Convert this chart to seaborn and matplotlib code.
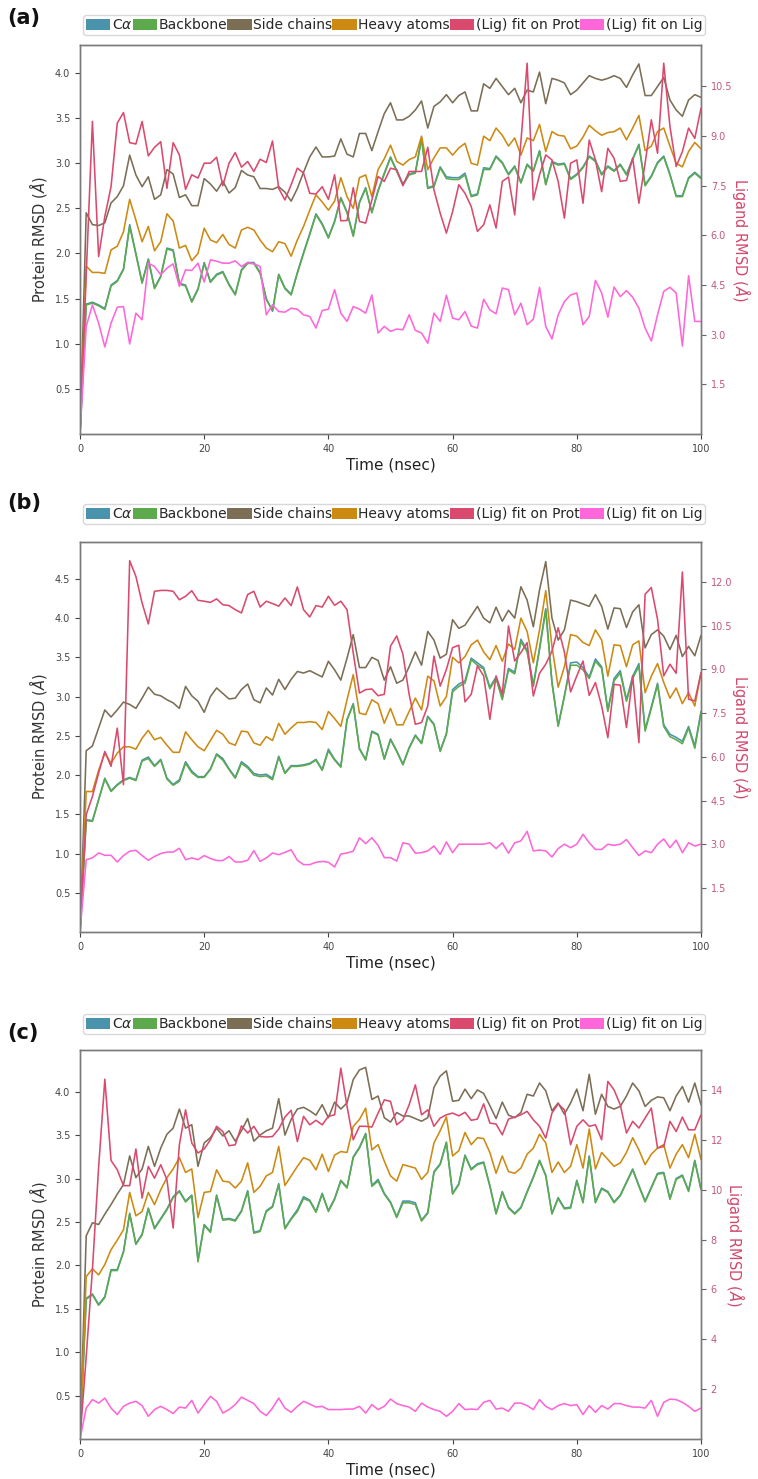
import matplotlib
matplotlib.use('Agg')
import matplotlib.pyplot as plt
from matplotlib.patches import Patch
import seaborn as sns

# Simulation time (ns)
time_ns = list(range(0, 101))

series_names = ['C$\\alpha$', 'Backbone', 'Side chains', 'Heavy atoms',
                '(Lig) fit on Prot', '(Lig) fit on Lig']
series_colors = ['#4a93ad', '#5daa4e', '#7b6e55', '#cc8a12', '#d94a6e', '#ff66d9']

# ---------------- panel (a) ----------------
a_ca = [0, 1.44, 1.46, 1.43, 1.39, 1.65, 1.70, 1.83, 2.32, 2.00,
        1.68, 1.94, 1.62, 1.75, 2.06, 2.04, 1.67, 1.65, 1.47, 1.61,
        1.90, 1.69, 1.77, 1.80, 1.66, 1.55, 1.82, 1.90, 1.90, 1.79,
        1.50, 1.36, 1.77, 1.62, 1.55, 1.79, 2.01, 2.22, 2.44, 2.33,
        2.18, 2.36, 2.62, 2.46, 2.20, 2.57, 2.73, 2.46, 2.70, 2.89,
        3.07, 2.92, 2.77, 2.88, 2.90, 3.28, 2.73, 2.75, 2.96, 2.85,
        2.84, 2.84, 2.89, 2.64, 2.66, 2.95, 2.94, 3.08, 3.01, 2.88,
        2.97, 2.79, 2.99, 2.92, 3.14, 2.77, 3.02, 2.99, 3.00, 2.83,
        2.88, 2.96, 3.08, 3.03, 2.88, 2.97, 2.92, 2.99, 2.88, 3.05,
        3.21, 2.76, 2.86, 3.01, 3.08, 2.88, 2.64, 2.64, 2.84, 2.90, 2.84]
a_backbone = [0, 1.43, 1.45, 1.42, 1.38, 1.64, 1.69, 1.82, 2.30, 1.99,
              1.67, 1.93, 1.61, 1.74, 2.05, 2.03, 1.66, 1.64, 1.46, 1.60,
              1.89, 1.68, 1.76, 1.79, 1.65, 1.54, 1.81, 1.89, 1.89, 1.78,
              1.49, 1.37, 1.76, 1.61, 1.54, 1.78, 2.00, 2.21, 2.43, 2.32,
              2.17, 2.35, 2.61, 2.45, 2.19, 2.56, 2.72, 2.45, 2.69, 2.88,
              3.06, 2.91, 2.76, 2.87, 2.89, 3.27, 2.72, 2.74, 2.95, 2.83,
              2.82, 2.82, 2.87, 2.63, 2.65, 2.93, 2.93, 3.07, 3.00, 2.87,
              2.96, 2.78, 2.98, 2.91, 3.13, 2.76, 3.01, 2.98, 2.99, 2.82,
              2.87, 2.95, 3.07, 3.02, 2.87, 2.96, 2.91, 2.98, 2.87, 3.04,
              3.20, 2.75, 2.85, 3.00, 3.07, 2.87, 2.63, 2.63, 2.83, 2.89, 2.83]
a_side = [0, 2.45, 2.32, 2.31, 2.34, 2.56, 2.63, 2.75, 3.09, 2.87,
          2.74, 2.85, 2.60, 2.65, 2.93, 2.88, 2.62, 2.65, 2.53, 2.53,
          2.83, 2.77, 2.69, 2.80, 2.67, 2.73, 2.92, 2.87, 2.85, 2.72,
          2.72, 2.71, 2.74, 2.68, 2.58, 2.72, 2.90, 3.07, 3.18, 3.07,
          3.07, 3.08, 3.27, 3.10, 3.07, 3.33, 3.33, 3.14, 3.35, 3.55,
          3.67, 3.48, 3.48, 3.52, 3.59, 3.69, 3.39, 3.63, 3.68, 3.76,
          3.67, 3.75, 3.79, 3.58, 3.58, 3.88, 3.83, 3.94, 3.85, 3.76,
          3.83, 3.67, 3.81, 3.79, 4.01, 3.66, 3.94, 3.92, 3.89, 3.76,
          3.81, 3.89, 3.97, 3.94, 3.92, 3.94, 3.97, 3.94, 3.84, 3.98,
          4.10, 3.75, 3.75, 3.85, 3.95, 3.70, 3.59, 3.52, 3.70, 3.76, 3.73]
a_heavy = [0, 1.86, 1.79, 1.79, 1.78, 2.04, 2.08, 2.24, 2.60, 2.37,
           2.13, 2.30, 2.03, 2.13, 2.44, 2.36, 2.06, 2.09, 1.92, 2.00,
           2.28, 2.15, 2.12, 2.21, 2.10, 2.06, 2.26, 2.29, 2.26, 2.15,
           2.06, 2.02, 2.13, 2.11, 1.97, 2.15, 2.30, 2.48, 2.65, 2.57,
           2.48, 2.58, 2.84, 2.63, 2.50, 2.84, 2.87, 2.63, 2.93, 3.05,
           3.20, 3.02, 2.98, 3.04, 3.07, 3.30, 2.93, 3.06, 3.17, 3.17,
           3.09, 3.17, 3.22, 3.00, 2.98, 3.30, 3.25, 3.39, 3.31, 3.19,
           3.28, 3.09, 3.28, 3.25, 3.43, 3.13, 3.35, 3.31, 3.30, 3.16,
           3.19, 3.29, 3.42, 3.36, 3.31, 3.34, 3.35, 3.39, 3.26, 3.39,
           3.53, 3.14, 3.19, 3.35, 3.39, 3.19, 3.00, 2.96, 3.13, 3.23, 3.16]
a_lig_prot = [0, 4.80, 9.44, 5.36, 6.57, 7.47, 9.39, 9.71, 8.80, 8.76,
              9.44, 8.40, 8.66, 8.83, 7.42, 8.80, 8.43, 7.39, 7.83, 7.73,
              8.18, 8.18, 8.36, 7.50, 8.18, 8.50, 8.06, 8.23, 7.93, 8.30,
              8.20, 8.85, 7.42, 7.07, 7.53, 8.03, 7.88, 7.27, 7.25, 7.47,
              7.09, 7.83, 6.44, 6.45, 7.44, 6.42, 6.37, 7.07, 7.78, 7.63,
              8.03, 7.98, 7.50, 7.93, 7.93, 7.93, 8.66, 7.37, 6.67, 6.07,
              6.72, 7.53, 7.27, 6.87, 6.12, 6.32, 6.92, 6.22, 7.63, 7.76,
              6.62, 8.83, 11.20, 7.07, 7.83, 8.43, 8.28, 7.63, 6.52, 8.18,
              8.28, 6.97, 8.88, 8.28, 7.32, 8.63, 8.33, 7.63, 7.66, 8.33,
              6.97, 8.18, 9.49, 8.48, 11.20, 9.29, 8.08, 8.53, 9.24, 8.93, 9.84]
a_lig_lig = [0, 3.25, 3.90, 3.35, 2.63, 3.35, 3.83, 3.85, 2.72, 3.65,
             3.45, 5.16, 5.06, 4.81, 5.01, 5.14, 4.46, 4.96, 4.94, 5.16,
             4.59, 5.26, 5.22, 5.16, 5.16, 5.23, 5.06, 5.18, 5.14, 5.06,
             3.60, 3.90, 3.70, 3.68, 3.80, 3.77, 3.60, 3.55, 3.20, 3.73,
             3.77, 4.36, 3.65, 3.40, 3.85, 3.77, 3.65, 4.20, 3.05, 3.25,
             3.10, 3.17, 3.15, 3.60, 3.13, 3.05, 2.74, 3.65, 3.40, 4.19,
             3.50, 3.45, 3.70, 3.26, 3.20, 4.07, 3.75, 3.63, 4.41, 4.36,
             3.60, 3.95, 3.30, 3.47, 4.43, 3.25, 2.87, 3.60, 4.00, 4.20,
             4.26, 3.30, 3.55, 4.64, 4.26, 3.53, 4.44, 4.15, 4.33, 4.13,
             3.80, 3.20, 2.81, 3.60, 4.31, 4.43, 4.26, 2.66, 4.78, 3.40, 3.40]

# ---------------- panel (b) ----------------
b_ca = [0, 1.43, 1.42, 1.69, 1.96, 1.80, 1.88, 1.94, 1.97, 1.94,
        2.19, 2.23, 2.12, 2.20, 1.96, 1.88, 1.94, 2.17, 2.05, 1.98,
        1.98, 2.08, 2.27, 2.21, 2.08, 1.97, 2.17, 2.11, 2.02, 2.00,
        2.01, 1.96, 2.24, 2.03, 2.12, 2.12, 2.13, 2.15, 2.20, 2.07,
        2.33, 2.20, 2.11, 2.71, 2.91, 2.34, 2.20, 2.56, 2.52, 2.21,
        2.46, 2.31, 2.14, 2.35, 2.51, 2.41, 2.75, 2.65, 2.31, 2.53,
        3.09, 3.16, 3.20, 3.49, 3.43, 3.37, 3.12, 3.25, 2.98, 3.36,
        3.31, 3.73, 3.59, 3.15, 3.62, 4.12, 3.19, 2.63, 3.01, 3.43,
        3.44, 3.37, 3.25, 3.48, 3.38, 2.83, 3.23, 3.33, 2.96, 3.26,
        3.42, 2.58, 2.87, 3.17, 2.64, 2.52, 2.48, 2.43, 2.62, 2.37, 2.81]
b_backbone = [0, 1.42, 1.41, 1.68, 1.95, 1.79, 1.87, 1.93, 1.96, 1.93,
              2.18, 2.21, 2.11, 2.19, 1.95, 1.87, 1.92, 2.15, 2.03, 1.97,
              1.97, 2.07, 2.26, 2.19, 2.07, 1.96, 2.15, 2.09, 2.00, 1.98,
              1.99, 1.94, 2.23, 2.02, 2.11, 2.11, 2.12, 2.14, 2.19, 2.06,
              2.31, 2.19, 2.10, 2.70, 2.90, 2.33, 2.19, 2.55, 2.51, 2.20,
              2.45, 2.30, 2.13, 2.34, 2.50, 2.40, 2.74, 2.64, 2.30, 2.52,
              3.06, 3.13, 3.17, 3.47, 3.40, 3.35, 3.10, 3.23, 2.96, 3.34,
              3.29, 3.70, 3.57, 3.13, 3.60, 4.10, 3.17, 2.62, 3.00, 3.40,
              3.40, 3.34, 3.23, 3.45, 3.36, 2.81, 3.20, 3.30, 2.94, 3.23,
              3.39, 2.56, 2.85, 3.15, 2.62, 2.49, 2.45, 2.40, 2.60, 2.34, 2.79]
b_side = [0, 2.31, 2.37, 2.60, 2.83, 2.74, 2.83, 2.93, 2.90, 2.85,
          2.98, 3.12, 3.03, 3.01, 2.96, 2.92, 2.85, 3.13, 3.01, 2.94,
          2.80, 3.00, 3.11, 3.04, 2.97, 2.98, 3.09, 3.16, 2.96, 2.92,
          3.11, 3.02, 3.22, 3.09, 3.22, 3.32, 3.30, 3.33, 3.29, 3.25,
          3.45, 3.34, 3.21, 3.49, 3.79, 3.37, 3.37, 3.50, 3.46, 3.21,
          3.38, 3.17, 3.21, 3.38, 3.57, 3.40, 3.83, 3.72, 3.49, 3.54,
          3.98, 3.87, 3.91, 4.03, 4.15, 4.00, 3.94, 4.14, 3.96, 4.10,
          4.00, 4.40, 4.23, 3.89, 4.36, 4.72, 4.00, 3.72, 3.85, 4.23,
          4.21, 4.18, 4.15, 4.30, 4.15, 3.86, 4.13, 4.12, 3.88, 4.08,
          4.17, 3.62, 3.79, 3.85, 3.77, 3.60, 3.78, 3.51, 3.64, 3.52, 3.78]
b_heavy = [0, 1.79, 1.79, 2.06, 2.28, 2.15, 2.28, 2.36, 2.36, 2.33,
           2.47, 2.57, 2.45, 2.48, 2.38, 2.29, 2.29, 2.55, 2.45, 2.36,
           2.31, 2.44, 2.57, 2.52, 2.41, 2.38, 2.56, 2.55, 2.41, 2.38,
           2.49, 2.44, 2.66, 2.52, 2.60, 2.67, 2.67, 2.68, 2.67, 2.58,
           2.81, 2.72, 2.62, 2.96, 3.28, 2.79, 2.77, 2.96, 2.91, 2.66,
           2.85, 2.64, 2.64, 2.81, 2.98, 2.83, 3.26, 3.20, 2.88, 3.00,
           3.50, 3.43, 3.51, 3.66, 3.72, 3.57, 3.47, 3.65, 3.45, 3.67,
           3.60, 4.00, 3.83, 3.43, 3.85, 4.35, 3.64, 3.12, 3.38, 3.79,
           3.77, 3.69, 3.65, 3.85, 3.72, 3.26, 3.66, 3.65, 3.38, 3.66,
           3.71, 3.05, 3.26, 3.42, 3.18, 2.98, 3.11, 2.91, 3.05, 2.88, 3.30]
b_lig_prot = [0, 4.02, 4.65, 5.45, 6.19, 5.68, 6.99, 5.05, 12.73, 12.19,
              11.28, 10.56, 11.68, 11.71, 11.71, 11.68, 11.39, 11.51, 11.70, 11.37,
              11.34, 11.30, 11.42, 11.22, 11.19, 11.05, 10.94, 11.57, 11.68, 11.14,
              11.34, 11.26, 11.17, 11.45, 11.19, 11.83, 11.05, 10.80, 11.19, 11.14,
              11.51, 11.20, 11.34, 11.05, 9.57, 8.19, 8.31, 8.33, 8.10, 8.15,
              9.80, 10.15, 9.52, 8.15, 7.12, 7.18, 7.75, 9.46, 8.43, 9.00,
              9.75, 9.83, 7.89, 8.15, 9.12, 8.78, 7.29, 8.78, 8.15, 10.49,
              9.29, 9.58, 9.92, 8.09, 8.87, 9.18, 9.63, 10.43, 9.60, 8.23,
              8.78, 9.29, 8.11, 8.55, 7.75, 6.66, 8.49, 8.46, 7.01, 8.78,
              6.49, 11.58, 11.81, 10.72, 8.78, 9.18, 8.87, 12.34, 7.98, 7.92, 8.89]
b_lig_lig = [0, 2.48, 2.54, 2.71, 2.63, 2.63, 2.40, 2.62, 2.77, 2.80,
             2.62, 2.46, 2.59, 2.69, 2.74, 2.74, 2.87, 2.48, 2.54, 2.48,
             2.62, 2.52, 2.45, 2.45, 2.59, 2.40, 2.40, 2.46, 2.79, 2.42,
             2.54, 2.71, 2.65, 2.73, 2.82, 2.46, 2.31, 2.31, 2.39, 2.42,
             2.39, 2.23, 2.67, 2.71, 2.77, 3.23, 3.03, 3.23, 2.97, 2.55,
             2.55, 2.43, 3.06, 3.01, 2.70, 2.72, 2.78, 2.95, 2.66, 3.09,
             2.72, 3.01, 3.01, 3.01, 3.01, 3.01, 3.06, 2.86, 3.06, 2.70,
             3.06, 3.12, 3.45, 2.78, 2.81, 2.78, 2.57, 2.86, 3.01, 2.89,
             3.01, 3.35, 3.06, 2.83, 2.83, 3.01, 2.97, 3.01, 3.17, 2.89,
             2.62, 2.78, 2.72, 3.01, 3.19, 2.89, 3.15, 2.72, 3.06, 2.95, 3.01]

# ---------------- panel (c) ----------------
c_ca = [0, 1.62, 1.67, 1.55, 1.64, 1.95, 1.95, 2.16, 2.60, 2.25,
        2.36, 2.66, 2.43, 2.54, 2.65, 2.79, 2.86, 2.74, 2.81, 2.06,
        2.47, 2.39, 2.81, 2.53, 2.54, 2.52, 2.63, 2.86, 2.38, 2.40,
        2.63, 2.68, 2.94, 2.43, 2.54, 2.64, 2.79, 2.75, 2.62, 2.83,
        2.63, 2.77, 2.98, 2.90, 3.25, 3.36, 3.52, 2.92, 2.99, 2.83,
        2.73, 2.56, 2.74, 2.74, 2.72, 2.52, 2.61, 3.08, 3.17, 3.42,
        2.83, 2.94, 3.27, 3.11, 3.17, 3.19, 2.92, 2.60, 2.85, 2.67,
        2.60, 2.67, 2.85, 3.02, 3.21, 3.04, 2.60, 2.78, 2.66, 2.67,
        2.98, 2.73, 3.26, 2.73, 2.89, 2.85, 2.73, 2.81, 2.96, 3.11,
        2.92, 2.74, 2.90, 3.06, 3.07, 2.77, 3.00, 3.04, 2.86, 3.21, 2.88]
c_backbone = [0, 1.61, 1.66, 1.54, 1.63, 1.94, 1.94, 2.15, 2.59, 2.24,
              2.35, 2.65, 2.42, 2.53, 2.64, 2.78, 2.85, 2.73, 2.80, 2.04,
              2.46, 2.38, 2.80, 2.52, 2.53, 2.51, 2.62, 2.85, 2.37, 2.39,
              2.62, 2.67, 2.93, 2.42, 2.53, 2.62, 2.77, 2.74, 2.61, 2.82,
              2.62, 2.76, 2.97, 2.89, 3.24, 3.35, 3.51, 2.91, 2.97, 2.82,
              2.72, 2.55, 2.72, 2.72, 2.70, 2.51, 2.60, 3.07, 3.16, 3.41,
              2.82, 2.93, 3.26, 3.10, 3.16, 3.18, 2.91, 2.59, 2.84, 2.66,
              2.59, 2.66, 2.84, 3.01, 3.20, 3.03, 2.59, 2.77, 2.65, 2.66,
              2.97, 2.72, 3.25, 2.72, 2.88, 2.84, 2.72, 2.80, 2.95, 3.10,
              2.91, 2.73, 2.89, 3.05, 3.06, 2.76, 2.99, 3.03, 2.85, 3.20, 2.87]
c_side = [0, 2.34, 2.49, 2.47, 2.59, 2.70, 2.82, 2.93, 3.26, 3.01,
          3.11, 3.37, 3.14, 3.35, 3.51, 3.58, 3.80, 3.58, 3.62, 3.14,
          3.41, 3.47, 3.58, 3.49, 3.55, 3.43, 3.55, 3.69, 3.43, 3.50,
          3.55, 3.58, 3.92, 3.50, 3.68, 3.80, 3.82, 3.78, 3.73, 3.85,
          3.70, 3.88, 3.80, 3.87, 4.14, 4.25, 4.28, 3.91, 3.95, 3.70,
          3.65, 3.76, 3.72, 3.72, 3.69, 3.66, 3.70, 4.05, 4.18, 4.24,
          3.89, 3.90, 4.03, 3.92, 4.02, 3.98, 3.84, 3.69, 3.88, 3.73,
          3.70, 3.76, 3.97, 3.95, 4.10, 4.01, 3.78, 3.87, 3.74, 3.87,
          4.03, 3.78, 4.20, 3.74, 3.97, 3.83, 3.80, 3.83, 3.95, 4.10,
          4.01, 3.83, 3.90, 3.94, 3.93, 3.78, 3.95, 4.06, 3.88, 4.10, 3.85]
c_heavy = [0, 1.87, 1.96, 1.89, 2.01, 2.18, 2.29, 2.41, 2.84, 2.57,
           2.62, 2.84, 2.70, 2.87, 3.01, 3.11, 3.24, 3.07, 3.11, 2.55,
           2.84, 2.85, 3.10, 2.97, 2.96, 2.89, 2.97, 3.18, 2.84, 2.91,
           3.03, 3.07, 3.37, 2.92, 3.03, 3.14, 3.24, 3.21, 3.10, 3.28,
           3.08, 3.27, 3.31, 3.30, 3.60, 3.68, 3.81, 3.33, 3.39, 3.20,
           3.03, 2.97, 3.16, 3.14, 3.12, 2.99, 3.07, 3.41, 3.55, 3.71,
           3.26, 3.32, 3.53, 3.39, 3.47, 3.46, 3.30, 3.06, 3.26, 3.08,
           3.06, 3.12, 3.28, 3.35, 3.51, 3.41, 3.07, 3.19, 3.07, 3.14,
           3.39, 3.12, 3.57, 3.11, 3.30, 3.22, 3.14, 3.18, 3.30, 3.47,
           3.33, 3.16, 3.28, 3.35, 3.39, 3.12, 3.28, 3.39, 3.24, 3.51, 3.22]
c_lig_prot = [0, 3.30, 6.80, 10.90, 14.43, 11.17, 10.80, 10.16, 10.16, 11.63,
              9.66, 10.93, 10.46, 11.00, 10.40, 8.46, 11.80, 13.20, 11.87, 11.47,
              11.63, 12.00, 12.54, 12.33, 11.76, 11.80, 12.56, 12.27, 12.54, 12.13,
              12.11, 12.13, 12.43, 12.91, 13.18, 11.93, 12.94, 12.60, 12.78, 12.60,
              12.94, 13.00, 14.87, 13.34, 12.00, 12.54, 12.54, 12.51, 13.07, 13.60,
              13.54, 12.60, 12.80, 13.40, 14.20, 13.00, 13.20, 12.54, 12.87, 13.00,
              13.07, 12.96, 13.10, 12.78, 12.83, 13.44, 12.67, 12.63, 12.20, 12.83,
              12.91, 13.00, 13.14, 12.80, 12.54, 12.07, 13.07, 13.44, 13.20, 11.80,
              12.54, 12.80, 12.54, 12.60, 12.00, 14.34, 14.00, 13.40, 12.27, 12.74,
              12.47, 12.87, 13.27, 11.67, 11.73, 12.74, 12.33, 12.91, 12.40, 12.40, 13.00]
c_lig_lig = [0, 1.24, 1.58, 1.44, 1.64, 1.24, 0.98, 1.31, 1.44, 1.51,
             1.34, 0.91, 1.18, 1.31, 1.18, 1.02, 1.28, 1.24, 1.55, 1.04,
             1.38, 1.71, 1.51, 1.04, 1.18, 1.38, 1.68, 1.55, 1.42, 1.11,
             0.94, 1.24, 1.64, 1.24, 1.07, 1.31, 1.51, 1.40, 1.28, 1.31,
             1.18, 1.18, 1.18, 1.20, 1.20, 1.31, 1.04, 1.38, 1.18, 1.31,
             1.60, 1.42, 1.34, 1.28, 1.11, 1.44, 1.28, 1.18, 1.11, 0.91,
             1.11, 1.42, 1.18, 1.20, 1.18, 1.47, 1.55, 1.20, 1.24, 1.11,
             1.44, 1.44, 1.34, 1.18, 1.58, 1.31, 1.18, 1.34, 1.42, 1.34,
             1.38, 0.98, 1.34, 1.07, 1.34, 1.20, 1.42, 1.42, 1.34, 1.28,
             1.28, 1.24, 1.55, 0.91, 1.47, 1.60, 1.58, 1.47, 1.31, 1.11, 1.24]

# tick labels per panel
a_left_ticks = [0.5, 1.0, 1.5, 2.0, 2.5, 3.0, 3.5, 4.0]
a_right_ticks = [1.5, 3.0, 4.5, 6.0, 7.5, 9.0, 10.5]
b_left_ticks = [0.5, 1.0, 1.5, 2.0, 2.5, 3.0, 3.5, 4.0, 4.5]
b_right_ticks = [1.5, 3.0, 4.5, 6.0, 7.5, 9.0, 10.5, 12.0]
c_left_ticks = [0.5, 1.0, 1.5, 2.0, 2.5, 3.0, 3.5, 4.0]
c_right_ticks = [2, 4, 6, 8, 10, 12, 14]
x_ticks = [0, 20, 40, 60, 80, 100]

sns.set_style('white')
plt.rcParams['font.family'] = ['DejaVu Sans']

spine_col = '#7a7a7a'
lig_col = '#d2486f'
lig_tick_col = '#c4587a'


def draw_panel(fig, rect, prot, lig, left_ticks, right_ticks, ymax_left, ymax_right,
               label, label_y, legend_dy, rpad):
    ax = fig.add_axes(rect)
    for vals, col in zip(prot, series_colors[:4]):
        sns.lineplot(x=time_ns, y=vals, color=col, linewidth=1.15, ax=ax)
    ax.set_xlim(0, 100)
    ax.set_ylim(0, ymax_left)
    ax.set_xticks(x_ticks)
    ax.set_yticks(left_ticks)
    ax.set_xlabel('Time (nsec)', fontsize=11, color='#222222', labelpad=3)
    ax.set_ylabel(r'Protein RMSD ($\AA$)', fontsize=10.5, color='#333333', labelpad=4)
    ax.tick_params(axis='both', labelsize=7, colors='#444444', length=3.5,
                   width=0.8, direction='out', left=True, bottom=True)

    ax2 = ax.twinx()
    for vals, col in zip(lig, series_colors[4:]):
        sns.lineplot(x=time_ns, y=vals, color=col, linewidth=1.15, ax=ax2)
    ax2.set_ylim(0, ymax_right)
    ax2.set_yticks(right_ticks)
    ax2.set_ylabel(r'Ligand RMSD ($\AA$)', fontsize=10.5, color=lig_col,
                   rotation=270, labelpad=rpad)
    ax2.tick_params(axis='y', labelsize=7, colors=lig_tick_col, length=3.5,
                    width=0.8, direction='out', right=True)
    ax2.tick_params(axis='y', color='#666666')
    for a in (ax, ax2):
        for sp in a.spines.values():
            sp.set_color(spine_col)
            sp.set_linewidth(1.0)

    handles = [Patch(facecolor=c, edgecolor='none', label=n)
               for n, c in zip(series_names, series_colors)]
    ax2.legend(handles=handles, ncol=6, loc='center',
               bbox_to_anchor=(0.506, 1 + legend_dy), fontsize=10,
               handlelength=1.75, handleheight=0.85, handletextpad=0.12,
               columnspacing=0.0, borderpad=0.2, borderaxespad=0,
               frameon=True, edgecolor='#d8d8d8', fancybox=True, framealpha=1)
    fig.text(0.009, label_y, label, fontsize=15, fontweight='bold',
             va='center', ha='left', color='#111111')
    return ax, ax2


fig = plt.figure(figsize=(7.58, 14.79), dpi=100)
W, H = 758.0, 1479.0
left, width = 80 / W, 621 / W

draw_panel(fig, [left, 1 - 434 / H, width, 389 / H],
           [a_ca, a_backbone, a_side, a_heavy], [a_lig_prot, a_lig_lig],
           a_left_ticks, a_right_ticks, 4.31, 11.75, '(a)', 1 - 18 / H, 20 / 389, 15)
draw_panel(fig, [left, 1 - 932 / H, width, 390 / H],
           [b_ca, b_backbone, b_side, b_heavy], [b_lig_prot, b_lig_lig],
           b_left_ticks, b_right_ticks, 4.97, 13.37, '(b)', 1 - 503 / H, 28 / 390, 15)
draw_panel(fig, [left, 1 - 1439 / H, width, 389 / H],
           [c_ca, c_backbone, c_side, c_heavy], [c_lig_prot, c_lig_lig],
           c_left_ticks, c_right_ticks, 4.48, 15.6, '(c)', 1 - 1033 / H, 26 / 389, 17)

fig.savefig('out.png', dpi=100, facecolor='white')
